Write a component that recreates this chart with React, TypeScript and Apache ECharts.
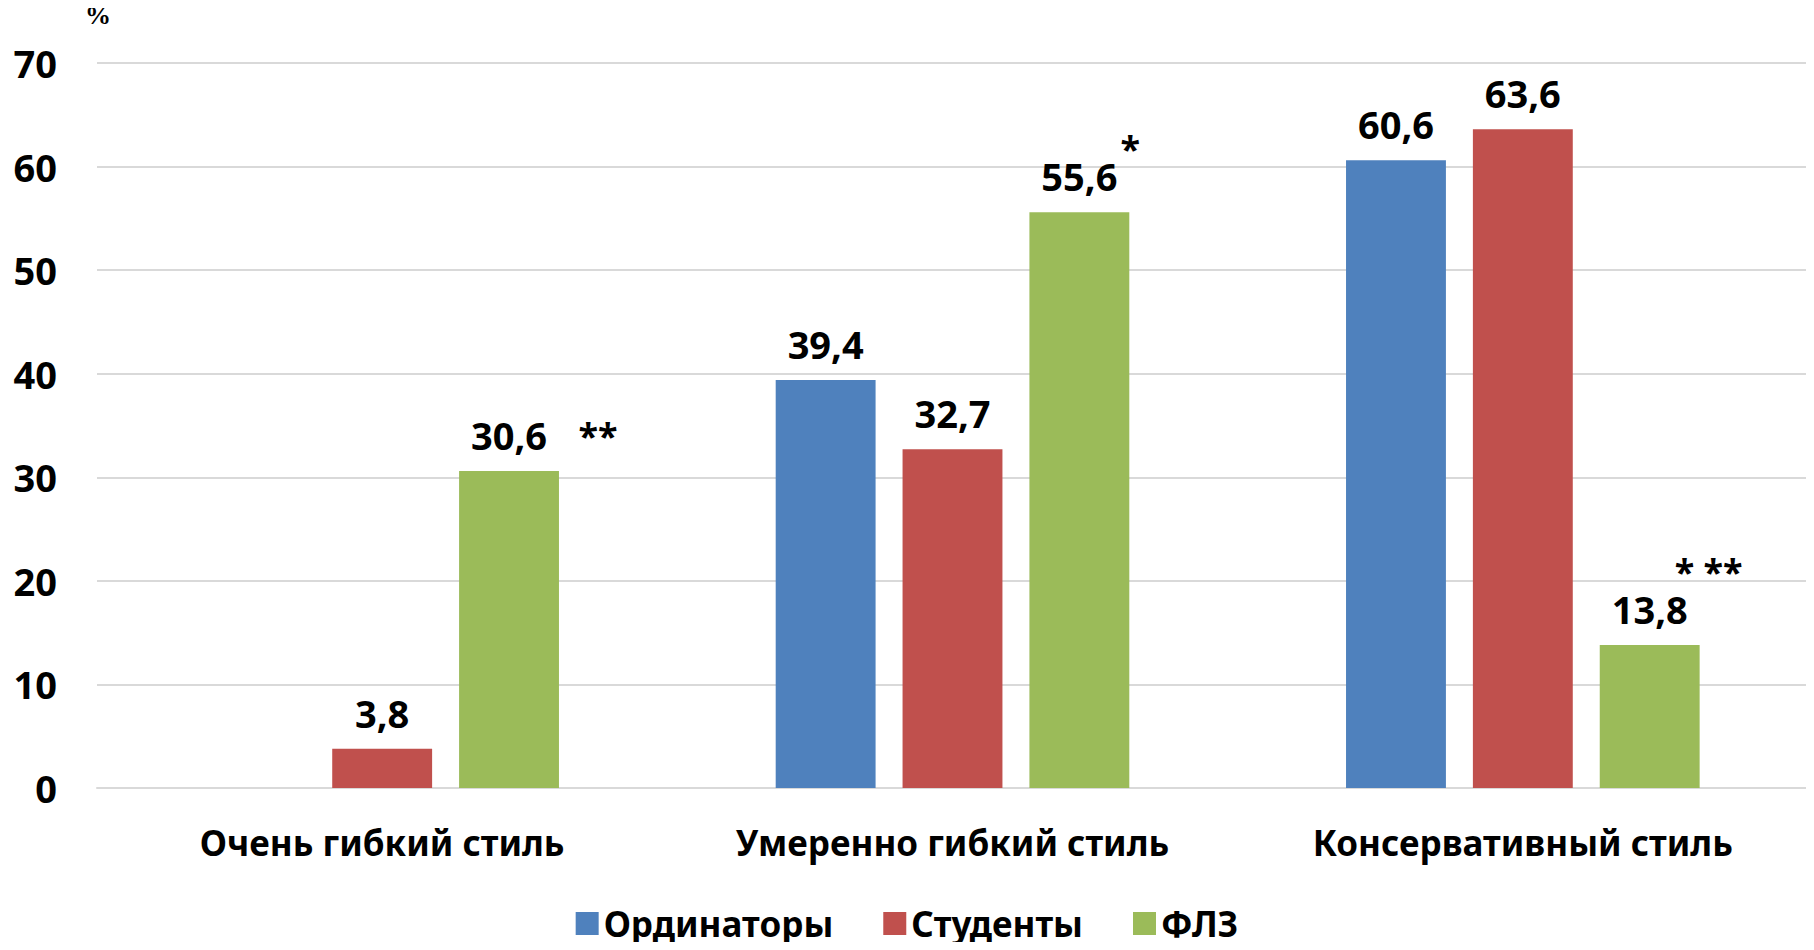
import React, { useEffect, useRef } from "react";
import * as echarts from "echarts";

const categories = ["Очень гибкий стиль", "Умеренно гибкий стиль", "Консервативный стиль"];
const seriesNames = ["Ординаторы", "Студенты", "ФЛЗ"];
const residents: (number | null)[] = [null, 39.4, 60.6];
const students: number[] = [3.8, 32.7, 63.6];
const flz: number[] = [30.6, 55.6, 13.8];
const flzMarks: string[] = ["**", "*", "* **"];
const yTicks = { min: 0, max: 70, interval: 10 };
const unitLabel = "%";

const colors = ["#4F81BD", "#C0504D", "#9BBB59"];
const FONT = "'Noto Sans', 'Open Sans', sans-serif";

const markOffsets: [number, number][] = [
  [89, -36],
  [51, -64],
  [59, -74],
];

export default function App() {
  const ref = useRef<HTMLDivElement>(null);
  useEffect(() => {
    if (!ref.current) return;
    const chart = echarts.init(ref.current, null, { renderer: "svg" });
    const fmt = (p: any) =>
      p.value === null || p.value === undefined ? "" : String(p.value).replace(".", ",");
    const labelStyle = {
      show: true,
      position: "top" as const,
      distance: 17,
      formatter: fmt,
      fontFamily: FONT,
      fontWeight: "bold" as const,
      fontSize: 38,
      color: "#000",
    };
    const data = [residents, students, flz];
    chart.setOption({
      animation: false,
      color: colors,
      grid: { left: 97, right: 6, top: 63, bottom: 162, containLabel: false },
      graphic: [
        {
          type: "text",
          left: 85,
          top: 2,
          style: {
            text: unitLabel,
            font: "bold 26px 'Liberation Serif', serif",
            fill: "#000",
          },
        },
      ],
      legend: {
        data: seriesNames,
        top: 901,
        left: "center",
        itemWidth: 23,
        itemHeight: 23,
        itemGap: 50,
        icon: "rect",
        textStyle: {
          fontFamily: FONT,
          fontWeight: "bold",
          fontSize: 35,
          color: "#000",
        },
      },
      xAxis: {
        type: "category",
        data: categories,
        axisLine: { show: true, lineStyle: { color: "#D9D9D9", width: 2 } },
        axisTick: { show: false },
        axisLabel: {
          fontFamily: FONT,
          fontWeight: "bold",
          fontSize: 35,
          color: "#000",
          margin: 37,
        },
      },
      yAxis: {
        type: "value",
        min: yTicks.min,
        max: yTicks.max,
        interval: yTicks.interval,
        axisLine: { show: false },
        axisTick: { show: false },
        splitLine: { lineStyle: { color: "#D9D9D9", width: 2 } },
        axisLabel: {
          fontFamily: FONT,
          fontWeight: "bold",
          fontSize: 38,
          color: "#000",
          margin: 40,
        },
      },
      series: seriesNames.map((name, si) => ({
        name,
        type: "bar",
        data: data[si],
        barGap: "27%",
        barCategoryGap: "38%",
        label: labelStyle,
        ...(si === 2
          ? {
              markPoint: {
                symbol: "circle",
                symbolSize: 0,
                data: flz.map((v, i) => ({
                  coord: [i, v],
                  value: flzMarks[i],
                  label: {
                    show: true,
                    formatter: flzMarks[i],
                    offset: markOffsets[i],
                    position: "inside",
                    fontFamily: FONT,
                    fontWeight: "bold",
                    fontSize: 36,
                    color: "#000",
                  },
                })),
              },
            }
          : {}),
      })),
    });
    return () => chart.dispose();
  }, []);
  return <div ref={ref} style={{ width: 1814, height: 950, margin: -8 }} />;
}
